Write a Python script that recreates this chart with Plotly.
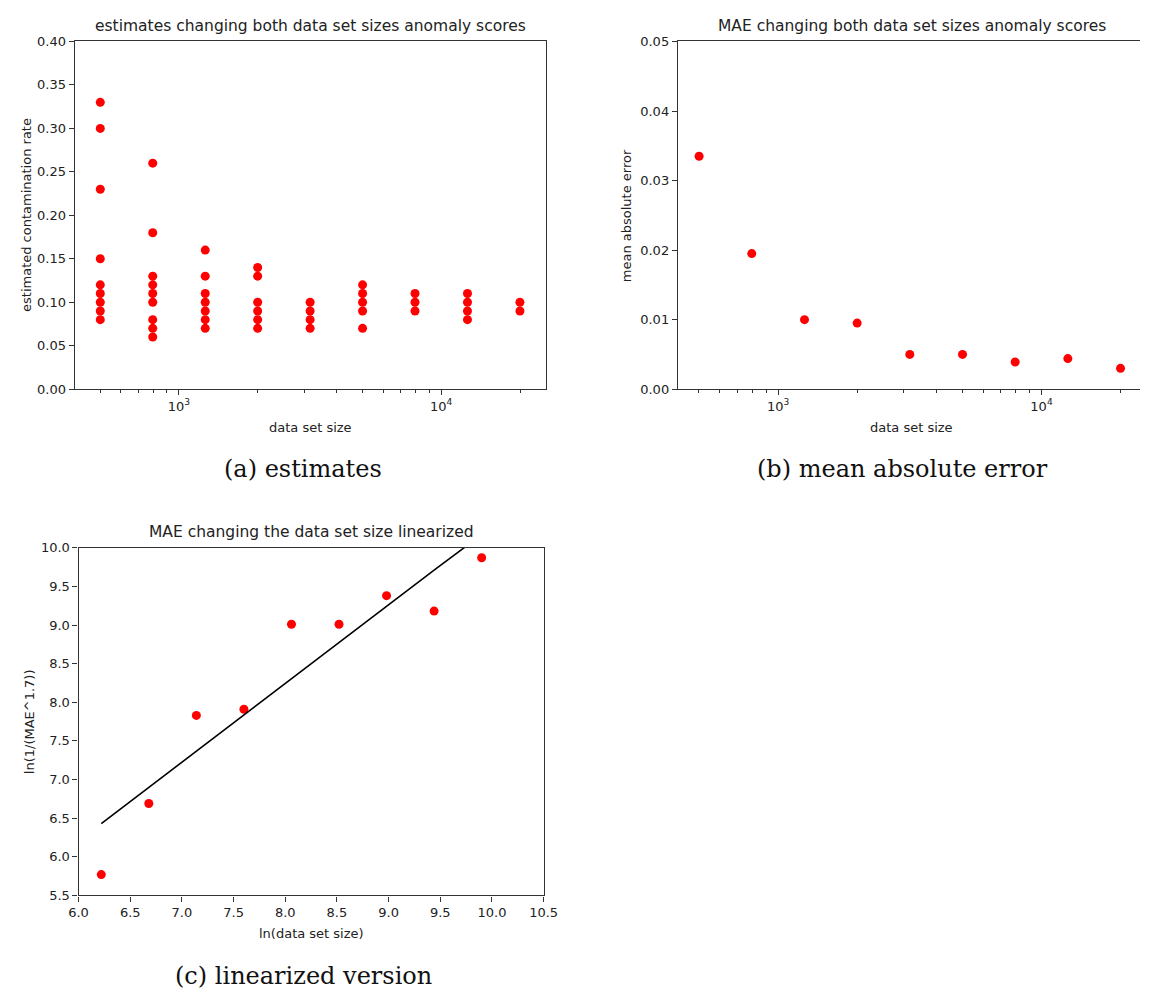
import plotly.graph_objects as go

# ---------------- data ----------------
sizes = [501, 794, 1259, 1995, 3162, 5012, 7943, 12589, 19953]

est_501 = [0.33, 0.30, 0.23, 0.15, 0.12, 0.11, 0.10, 0.09, 0.08]
est_794 = [0.26, 0.18, 0.13, 0.12, 0.11, 0.10, 0.08, 0.07, 0.06]
est_1259 = [0.16, 0.13, 0.11, 0.10, 0.09, 0.08, 0.07]
est_1995 = [0.14, 0.13, 0.10, 0.09, 0.08, 0.07]
est_3162 = [0.10, 0.09, 0.08, 0.07]
est_5012 = [0.12, 0.11, 0.10, 0.09, 0.07]
est_7943 = [0.11, 0.10, 0.09]
est_12589 = [0.11, 0.10, 0.09, 0.08]
est_19953 = [0.10, 0.09]
estimates = [est_501, est_794, est_1259, est_1995, est_3162,
             est_5012, est_7943, est_12589, est_19953]

mae = [0.0335, 0.0195, 0.0100, 0.0095, 0.0050, 0.0050, 0.0039, 0.0044, 0.0030]

ln_size = [6.22, 6.68, 7.14, 7.60, 8.06, 8.52, 8.98, 9.44, 9.90]
ln_inv_mae = [5.77, 6.69, 7.83, 7.91, 9.01, 9.01, 9.38, 9.18, 9.87]
fit_line = [6.43, 6.90, 7.37, 7.83, 8.30, 8.77, 9.24, 9.71, 10.17]

log_tickvals = [1000, 10000]
log_ticktext = ["10<sup>3</sup>", "10<sup>4</sup>"]
log_minor = [500, 600, 700, 800, 900, 2000, 3000, 4000, 5000, 6000, 7000,
             8000, 9000, 20000]

# ---------------- layout helpers ----------------
W, H = 1154, 999
def px_x(p):
    return p / W
def px_y(p):
    return 1 - p / H

FONT = "DejaVu Sans"
TXT = "#222222"
AX = "#333333"
RED = "#ff0000"

fig = go.Figure()

# (a) estimates
ex, ey = [], []
for s, vals in zip(sizes, estimates):
    for v in vals:
        ex.append(s)
        ey.append(v)
fig.add_trace(go.Scatter(x=ex, y=ey, mode="markers",
                         marker=dict(color=RED, size=9, line=dict(width=0)),
                         xaxis="x", yaxis="y", showlegend=False))

# (b) MAE
fig.add_trace(go.Scatter(x=sizes, y=mae, mode="markers",
                         marker=dict(color=RED, size=9, line=dict(width=0)),
                         xaxis="x2", yaxis="y2", showlegend=False))

# (c) linearized
fig.add_trace(go.Scatter(x=ln_size, y=ln_inv_mae, mode="markers",
                         marker=dict(color=RED, size=9, line=dict(width=0)),
                         xaxis="x3", yaxis="y3", showlegend=False))
fig.add_trace(go.Scatter(x=ln_size, y=fit_line, mode="lines",
                         line=dict(color="black", width=1.6),
                         xaxis="x3", yaxis="y3", showlegend=False))

tickfont = dict(family=FONT, size=13, color=TXT)
common = dict(showgrid=False, zeroline=False, showline=True, linecolor=AX,
              linewidth=1.1, ticks="outside", ticklen=5, tickwidth=1,
              tickcolor=AX, tickfont=tickfont)

def logx(domain, rng, anchor):
    return dict(common, type="log", domain=domain, range=rng, mirror=True,
                anchor=anchor,
                tickmode="array", tickvals=log_tickvals, ticktext=log_ticktext,
                minor=dict(ticks="outside", ticklen=3, tickwidth=1,
                           tickcolor=AX, tickvals=log_minor))

fig.update_layout(
    width=W, height=H, autosize=False,
    margin=dict(l=0, r=0, t=0, b=0),
    paper_bgcolor="white", plot_bgcolor="white",
    font=dict(family=FONT, color=TXT),
    xaxis=logx([px_x(66), px_x(547)], [2.602, 4.398], "y"),
    yaxis=dict(common, domain=[px_y(388), px_y(35)], range=[0, 0.40],
               dtick=0.05, tick0=0, tickformat=".2f", mirror=True,
               anchor="x"),
    xaxis2=logx([px_x(682), 1.0], [2.619, 4.374], "y2"),
    yaxis2=dict(common, domain=[px_y(388), px_y(35)], range=[0, 0.05],
                dtick=0.01, tick0=0, tickformat=".2f", mirror=False,
                anchor="x2"),
    xaxis3=dict(common, domain=[px_x(70), px_x(545)], range=[6.0, 10.5],
                dtick=0.5, tick0=6.0, tickformat=".1f", mirror=True,
                anchor="y3"),
    yaxis3=dict(common, domain=[px_y(902), px_y(549)], range=[5.5, 10.0],
                dtick=0.5, tick0=5.5, tickformat=".1f", mirror=True,
                anchor="x3"),
)

def ann(text, x, y, size=13, angle=0, family=FONT, color=TXT):
    fig.add_annotation(text=text, x=px_x(x), y=px_y(y), xref="paper",
                       yref="paper", showarrow=False, textangle=angle,
                       xanchor="center", yanchor="middle",
                       font=dict(family=family, size=size, color=color))

# titles
ann("estimates changing both data set sizes anomaly scores", 306.5, 19, 15.5)
ann("MAE changing both data set sizes anomaly scores", 921, 19, 15.5)
ann("MAE changing the data set size linearized", 307.5, 533, 15.5)

# axis labels
ann("data set size", 306.5, 427, 13)
ann("data set size", 921, 427, 13)
ann("ln(data set size)", 307.5, 941, 13)
ann("estimated contamination rate", 17, 211.5, 13, -90)
ann("mean absolute error", 629, 211.5, 13, -90)
ann("ln(1/(MAE^1.7))", 20, 725.5, 13, -90)

# captions
ann("(a) estimates", 299, 469, 24, family="DejaVu Serif", color="#111111")
ann("(b) mean absolute error", 911.5, 469, 24, family="DejaVu Serif", color="#111111")
ann("(c) linearized version", 300, 984, 24, family="DejaVu Serif", color="#111111")

fig.write_html("out.html")
